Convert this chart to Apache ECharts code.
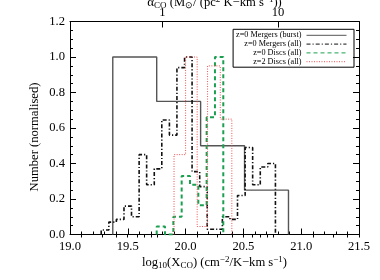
<!DOCTYPE html>
<html><head><meta charset="utf-8">
<script src="https://cdn.jsdelivr.net/npm/echarts@6/dist/echarts.min.js"></script>
<style>html,body{margin:0;padding:0;background:#fff}#c{width:380px;height:280px}</style>
</head><body><div id="c"></div>
<script>
// ---- data ----
const seriesNames = ['z=0 Mergers (burst)', 'z=0 Mergers (all)', 'z=0 Discs (all)', 'z=2 Discs (all)'];

const burstEdges  = [19.37, 19.75, 20.13, 20.51, 20.89];
const burstValues = [1.0, 0.75, 0.5, 0.25];

const mergersEdges  = [19.270, 19.336, 19.401, 19.467, 19.532, 19.598, 19.663, 19.729, 19.794, 19.860, 19.925, 19.991,
                       20.056, 20.122, 20.187, 20.253, 20.318, 20.384, 20.449, 20.515, 20.580, 20.646, 20.711, 20.777];
const mergersValues = [0.025, 0.07, 0.085, 0.16, 0.10, 0.45, 0.28, 0.37, 0.645, 0.56, 0.94, 1.0,
                       0.354, 0.27, 0.03, 0.03, 0.10, 0.085, 0.22, 0.49, 0.28, 0.38, 0.40];

const discs0Edges  = [19.750, 19.822, 19.894, 19.966, 20.038, 20.110, 20.182, 20.254, 20.326];
const discs0Values = [0.045, 0.0, 0.10, 0.33, 0.28, 0.165, 0.66, 1.0];

const discs2Edges  = [19.90, 20.00, 20.10, 20.19, 20.30, 20.40];
const discs2Values = [0.45, 1.0, 0.045, 0.95, 0.65];

const xTickLabels = ['19.0', '19.5', '20.0', '20.5', '21.0', '21.5'];
const yTickLabels = ['0.0', '0.2', '0.4', '0.6', '0.8', '1.0', '1.2'];
const alphaMajor = [1, 10];
const alphaMinor = [0.2, 0.3, 0.4, 0.5, 0.6, 0.7, 0.8, 0.9, 2, 3, 4, 5, 6, 7, 8, 9, 20, 30, 40, 50];
const logXcoPerAlpha = 19.8; // log10(X_CO) at alpha_CO = 1

// ---- helpers ----
function steps(edges, values) {
  const pts = [[edges[0], 0]];
  for (let i = 0; i < values.length; i++) pts.push([edges[i], values[i]]);
  pts.push([edges[edges.length - 1], 0]);
  return pts;
}
const toX = a => Math.log10(a) + logXcoPerAlpha;

const FONT = 'Liberation Serif';
const chart = echarts.init(document.getElementById('c'), null, {renderer: 'canvas'});

const option = {
  backgroundColor: '#fff',
  animation: false,
  textStyle: {fontFamily: FONT},
  grid: {left: 70, right: 21, top: 21.5, bottom: 45.5, containLabel: false, outerBoundsMode: 'none'},
  legend: {
    orient: 'vertical', right: 26, top: 29.3, align: 'right',
    itemWidth: 40, itemHeight: 8, itemGap: 0.8,
    padding: [2, 7, 1.5, 3],
    borderColor: '#000', borderWidth: 1,
    itemStyle: {opacity: 0, borderWidth: 0},
    lineStyle: {width: 1},
    textStyle: {fontFamily: FONT, fontSize: 8.2, color: '#000'},
    data: seriesNames.map(n => ({name: n}))
  },
  xAxis: [
    {
      type: 'value', position: 'bottom', min: 19, max: 21.5, interval: 0.5,
      axisLine: {show: true, onZero: false, lineStyle: {color: '#000', width: 1}},
      axisTick: {show: true, inside: true, length: 6, lineStyle: {color: '#000'}},
      minorTick: {show: true, splitNumber: 5, length: 3, lineStyle: {color: '#000'}},
      splitLine: {show: false},
      axisLabel: {margin: 6, color: '#000', fontFamily: FONT, fontSize: 12.6,
        formatter: v => xTickLabels[Math.round((v - 19) / 0.5)]},
      name: '{n|log}{s|10}{n|(X}{s|CO}{n|) (cm}{p|−2}{n|/K−km s}{p|−1}{n|)}',
      nameLocation: 'middle', nameGap: 21, nameMoveOverlap: false,
      nameTextStyle: {rich: {
        n: {fontFamily: FONT, fontSize: 12.6, color: '#000'},
        s: {fontFamily: FONT, fontSize: 9, color: '#000', verticalAlign: 'bottom', padding: [6, 0, 0, 0]},
        p: {fontFamily: FONT, fontSize: 9, color: '#000', verticalAlign: 'top', padding: [0, 0, 6, 0]}
      }}
    },
    {
      type: 'value', position: 'top', min: 19, max: 21.5,
      axisLine: {show: true, onZero: false, lineStyle: {color: '#000', width: 1}},
      axisTick: {show: true, inside: true, length: 6, customValues: alphaMajor.map(toX), lineStyle: {color: '#000'}},
      splitLine: {show: false},
      axisLabel: {show: true, margin: 2, color: '#000', fontFamily: FONT, fontSize: 12.6,
        customValues: alphaMajor.map(toX),
        formatter: v => String(Math.round(Math.pow(10, v - logXcoPerAlpha)))},
      name: '{a|α}{s|CO}{n| (M}{s|⊙}{n|/ (pc}{p|2}{n| K−km s}{p|−1}{n|))}',
      nameLocation: 'middle', nameGap: 11, nameMoveOverlap: false,
      nameTextStyle: {rich: {
        a: {fontFamily: FONT, fontSize: 13, color: '#000'},
        n: {fontFamily: FONT, fontSize: 12.6, color: '#000'},
        s: {fontFamily: FONT, fontSize: 9, color: '#000', verticalAlign: 'bottom', padding: [6, 0, 0, 0]},
        p: {fontFamily: FONT, fontSize: 9, color: '#000', verticalAlign: 'top', padding: [0, 0, 6, 0]}
      }}
    },
    {
      type: 'value', position: 'top', min: 19, max: 21.5,
      axisLine: {show: false},
      axisTick: {show: true, inside: true, length: 3, customValues: alphaMinor.map(toX), lineStyle: {color: '#000'}},
      splitLine: {show: false},
      axisLabel: {show: false}
    }
  ],
  yAxis: [
    {
      type: 'value', position: 'left', min: 0, max: 1.2, interval: 0.2,
      axisLine: {show: true, onZero: false, lineStyle: {color: '#000', width: 1}},
      axisTick: {show: true, inside: true, length: 6, lineStyle: {color: '#000'}},
      minorTick: {show: true, splitNumber: 4, length: 3, lineStyle: {color: '#000'}},
      splitLine: {show: false},
      axisLabel: {margin: 5, color: '#000', fontFamily: FONT, fontSize: 12.6,
        formatter: v => yTickLabels[Math.round(v / 0.2)]},
      name: 'Number (normalised)', nameLocation: 'middle', nameGap: 29, nameMoveOverlap: false,
      nameTextStyle: {fontFamily: FONT, fontSize: 12.6, color: '#000', padding: [0, 18, 0, 0]}
    },
    {
      type: 'value', position: 'right', min: 0, max: 1.2, interval: 0.2,
      axisLine: {show: true, onZero: false, lineStyle: {color: '#000', width: 1}},
      axisTick: {show: true, inside: true, length: 6, lineStyle: {color: '#000'}},
      minorTick: {show: true, splitNumber: 4, length: 3, lineStyle: {color: '#000'}},
      splitLine: {show: false},
      axisLabel: {show: false}
    }
  ],
  series: [
    {
      name: seriesNames[0], type: 'line', step: 'end', symbol: 'none', xAxisIndex: 0, yAxisIndex: 0,
      data: steps(burstEdges, burstValues),
      lineStyle: {color: '#555', width: 1.4, type: 'solid'}, itemStyle: {color: '#555'}, z: 3
    },
    {
      name: seriesNames[1], type: 'line', step: 'end', symbol: 'none', xAxisIndex: 0, yAxisIndex: 0,
      data: steps(mergersEdges, mergersValues),
      lineStyle: {color: '#111', width: 1.6, type: [4, 2, 1.2, 2]}, itemStyle: {color: '#111'}, z: 4
    },
    {
      name: seriesNames[2], type: 'line', step: 'end', symbol: 'none', xAxisIndex: 0, yAxisIndex: 0,
      data: steps(discs0Edges, discs0Values),
      lineStyle: {color: '#1aa050', width: 2, type: [4, 3]}, itemStyle: {color: '#1aa050'}, z: 5
    },
    {
      name: seriesNames[3], type: 'line', step: 'end', symbol: 'none', xAxisIndex: 0, yAxisIndex: 0,
      data: steps(discs2Edges, discs2Values),
      lineStyle: {color: '#f05050', width: 1, type: [1, 1.5]}, itemStyle: {color: '#f05050'}, z: 6
    }
  ]
};
chart.setOption(option);
</script>
</body></html>
